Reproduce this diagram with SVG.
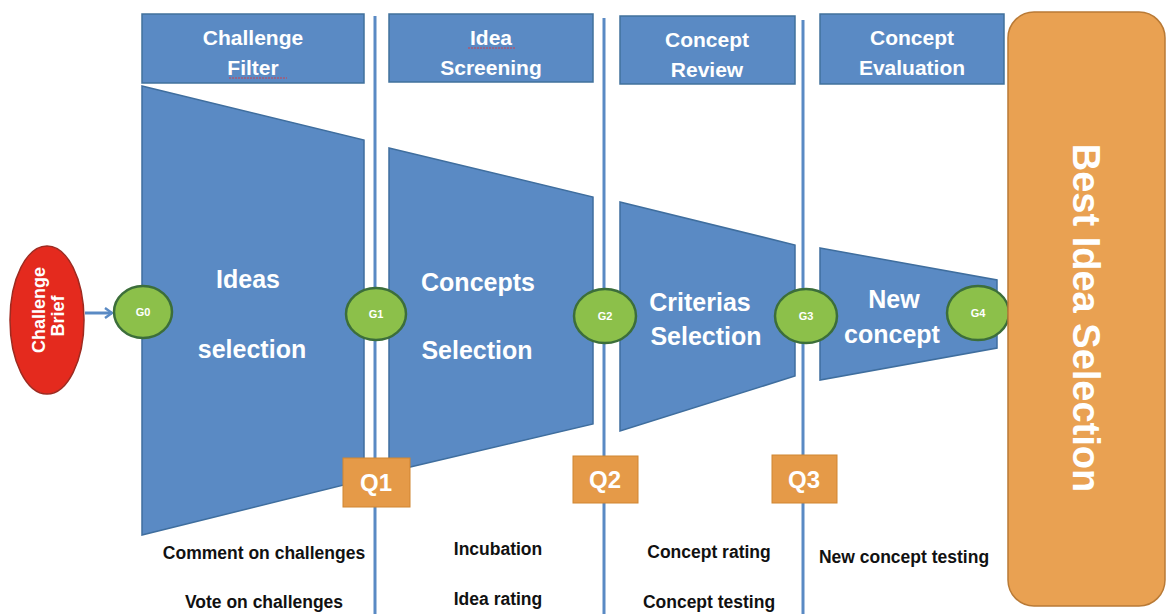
<svg xmlns="http://www.w3.org/2000/svg" width="1167" height="614" viewBox="0 0 1167 614">
<style>
.hdr{fill:#5A8AC4;stroke:#41719C;stroke-width:1.5}
.fun{fill:#5A8AC4;stroke:#3F6E9E;stroke-width:1.5}
.ht{font-family:"Liberation Sans",Arial,sans-serif;font-weight:bold;font-size:21px;fill:#fff;text-anchor:middle}
.ft{font-family:"Liberation Sans",Arial,sans-serif;font-weight:bold;font-size:25px;fill:#fff;text-anchor:middle}
.g{fill:#8CC04A;stroke:#3C6E3A;stroke-width:2.5}
.gt{font-family:"Liberation Sans",Arial,sans-serif;font-weight:bold;font-size:11px;fill:#fff;text-anchor:middle}
.q{fill:#E59A48;stroke:#D08530;stroke-width:1}
.qt{font-family:"Liberation Sans",Arial,sans-serif;font-weight:bold;font-size:24px;fill:#fff;text-anchor:middle}
.bt{font-family:"Liberation Sans",Arial,sans-serif;font-weight:bold;font-size:17.5px;fill:#111;text-anchor:middle}
.vl{stroke:#5A8AC4;stroke-width:3;fill:none}
.sq{stroke:#D0404A;stroke-width:1;fill:none;stroke-dasharray:2 1}
.cb{font-family:"Liberation Sans",Arial,sans-serif;font-weight:bold;font-size:18px;fill:#fff;text-anchor:middle}
</style>
<defs>
<marker id="arr" markerWidth="10" markerHeight="12" refX="8" refY="6" orient="auto" markerUnits="userSpaceOnUse">
<path d="M1,1 L8,6 L1,11" fill="none" stroke="#5A8AC4" stroke-width="2.5"/>
</marker>
</defs>

<g id="connectors">
<line class="vl" x1="375" y1="16" x2="375" y2="614"/>
<line class="vl" x1="604" y1="18" x2="604" y2="614"/>
<line class="vl" x1="803" y1="20" x2="803" y2="614"/>
<line x1="85" y1="313" x2="112" y2="313" stroke="#5A8AC4" stroke-width="3" marker-end="url(#arr)"/>
</g>

<g id="hdr-challenge-filter">
<rect class="hdr" x="142" y="14" width="222" height="69"/>
<text class="ht" x="253" y="45">Challenge</text>
<text class="ht" x="253" y="75">Filter</text>
<path class="sq" d="M229,78 L287,78"/>
</g>
<g id="hdr-idea-screening">
<rect class="hdr" x="389" y="14" width="204" height="68"/>
<text class="ht" x="491" y="45">Idea</text>
<text class="ht" x="491" y="75">Screening</text>
<path class="sq" d="M468,48 L515,48"/>
</g>
<g id="hdr-concept-review">
<rect class="hdr" x="620" y="16" width="175" height="68"/>
<text class="ht" x="707" y="47">Concept</text>
<text class="ht" x="707" y="77">Review</text>
</g>
<g id="hdr-concept-evaluation">
<rect class="hdr" x="820" y="14" width="184" height="70"/>
<text class="ht" x="912" y="45">Concept</text>
<text class="ht" x="912" y="75">Evaluation</text>
</g>

<g id="ideas-selection">
<polygon class="fun" points="142,86 364,140 364,480 142,535"/>
<text class="ft" x="248" y="288">Ideas</text>
<text class="ft" x="252" y="358">selection</text>
</g>
<g id="concepts-selection">
<polygon class="fun" points="389,148 593,197 593,424 389,472"/>
<text class="ft" x="478" y="291">Concepts</text>
<text class="ft" x="477" y="359">Selection</text>
</g>
<g id="criterias-selection">
<polygon class="fun" points="620,202 795,245 795,376 620,431"/>
<text class="ft" x="700" y="311">Criterias</text>
<text class="ft" x="706" y="345">Selection</text>
</g>
<g id="new-concept">
<polygon class="fun" points="820,248 997,280 997,348 820,380"/>
<text class="ft" x="894" y="308">New</text>
<text class="ft" x="892" y="343">concept</text>
</g>

<g id="challenge-brief">
<ellipse cx="47" cy="320" rx="37" ry="74" fill="#E42A1E" stroke="#9E2A20" stroke-width="1.5"/>
<text class="cb" transform="translate(45,310) rotate(-90)">Challenge</text>
<text class="cb" transform="translate(64,316) rotate(-90)">Brief</text>
</g>

<g id="G0"><ellipse class="g" cx="143" cy="312" rx="29" ry="26"/><text class="gt" x="143" y="316">G0</text></g>
<g id="G1"><ellipse class="g" cx="376" cy="314" rx="30" ry="26"/><text class="gt" x="376" y="318">G1</text></g>
<g id="G2"><ellipse class="g" cx="605" cy="316" rx="31" ry="27"/><text class="gt" x="605" y="320">G2</text></g>
<g id="G3"><ellipse class="g" cx="806" cy="316" rx="31" ry="27"/><text class="gt" x="806" y="320">G3</text></g>
<g id="G4"><ellipse class="g" cx="978" cy="313" rx="31" ry="27"/><text class="gt" x="978" y="317">G4</text></g>

<g id="Q1"><rect class="q" x="343" y="458" width="67" height="49"/><text class="qt" x="376" y="491">Q1</text></g>
<g id="Q2"><rect class="q" x="573" y="456" width="65" height="47"/><text class="qt" x="605" y="488">Q2</text></g>
<g id="Q3"><rect class="q" x="772" y="455" width="65" height="48"/><text class="qt" x="804" y="488">Q3</text></g>

<g id="best-idea-selection">
<rect x="1008" y="12" width="157" height="594" rx="26" ry="26" fill="#E9A152" stroke="#B97A36" stroke-width="1.5"/>
<text transform="translate(1073,318) rotate(90)" font-family="'Liberation Sans',Arial,sans-serif" font-weight="bold" font-size="38" fill="#fff" text-anchor="middle">Best Idea Selection</text>
</g>

<g id="activities">
<text class="bt" x="264" y="559">Comment on challenges</text>
<text class="bt" x="264" y="608">Vote on challenges</text>
<text class="bt" x="498" y="555">Incubation</text>
<text class="bt" x="498" y="605">Idea rating</text>
<text class="bt" x="709" y="558">Concept rating</text>
<text class="bt" x="709" y="608">Concept testing</text>
<text class="bt" x="904" y="563">New concept testing</text>
</g>
</svg>
